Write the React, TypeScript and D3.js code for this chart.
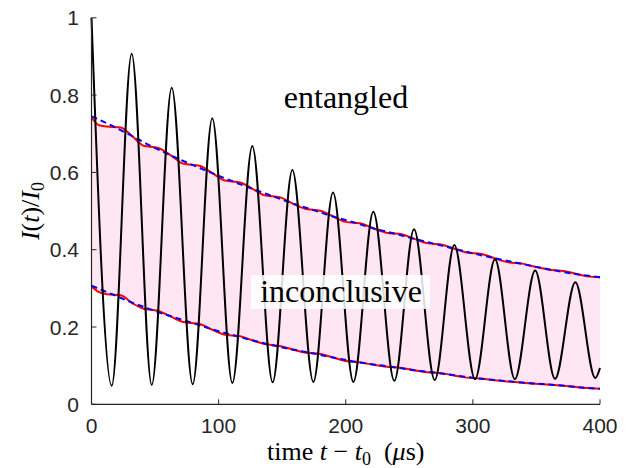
import React from 'react';
import * as d3 from 'd3';

// black trace: alternating maxima / minima of I(t)/I0
const blackT = [0, 15.9, 31.6, 47.4, 63.1, 79.6, 95, 110.8, 126.5, 142.5, 158, 174.5, 190, 206, 221.7, 238.2, 253.7, 270, 285.4, 301.7, 317.4, 333, 349, 364.6, 380.6, 396.3, 400];
const blackV = [1.0, 0.048, 0.907, 0.05, 0.819, 0.052, 0.74, 0.055, 0.668, 0.057, 0.606, 0.058, 0.548, 0.058, 0.498, 0.061, 0.453, 0.063, 0.412, 0.065, 0.375, 0.065, 0.346, 0.066, 0.316, 0.068, 0.094];

// red bounds (wiggly)
const envT = [0, 6, 12, 23, 32, 41, 52, 63, 72, 85, 95, 105, 117, 127, 136, 148, 158, 168, 180, 190, 200, 212, 222, 232, 244, 254, 264, 276, 286, 295, 307, 317, 327, 339, 349, 359, 371, 381, 390, 400];
const upperRed = [0.742, 0.722, 0.719, 0.716, 0.694, 0.669, 0.664, 0.643, 0.623, 0.617, 0.598, 0.579, 0.574, 0.557, 0.541, 0.536, 0.52, 0.506, 0.501, 0.486, 0.472, 0.468, 0.455, 0.444, 0.44, 0.428, 0.417, 0.413, 0.402, 0.393, 0.389, 0.378, 0.368, 0.364, 0.356, 0.349, 0.345, 0.338, 0.331, 0.329];
const lowerRed = [0.305, 0.29, 0.285, 0.282, 0.262, 0.247, 0.242, 0.226, 0.213, 0.208, 0.193, 0.18, 0.176, 0.165, 0.156, 0.151, 0.142, 0.134, 0.13, 0.121, 0.112, 0.108, 0.102, 0.097, 0.094, 0.088, 0.083, 0.08, 0.074, 0.069, 0.066, 0.062, 0.059, 0.056, 0.053, 0.051, 0.048, 0.045, 0.042, 0.04];

// blue dashed bounds (smooth)
const blueT = [0, 16, 32, 47, 63, 79, 95, 111, 127, 142, 158, 174, 190, 206, 222, 238, 254, 270, 286, 301, 317, 333, 349, 365, 381, 400];
const upperBlue = [0.745, 0.721, 0.694, 0.668, 0.643, 0.62, 0.598, 0.577, 0.557, 0.539, 0.52, 0.503, 0.486, 0.471, 0.455, 0.442, 0.428, 0.415, 0.402, 0.39, 0.378, 0.367, 0.356, 0.346, 0.337, 0.329];
const lowerBlue = [0.307, 0.285, 0.263, 0.245, 0.227, 0.211, 0.194, 0.179, 0.165, 0.153, 0.142, 0.132, 0.121, 0.111, 0.103, 0.096, 0.088, 0.082, 0.075, 0.068, 0.063, 0.058, 0.054, 0.05, 0.045, 0.04];

const xTicks = [0, 100, 200, 300, 400];
const yTicks = [0, 0.2, 0.4, 0.6, 0.8, 1];
const yTickLabels = ['0', '0.2', '0.4', '0.6', '0.8', '1'];

const W = 634;
const H = 468;
const left = 91.5;
const right = 600;
const top = 17.8;
const bottom = 404.3;

const App = () => {
  const x = d3.scaleLinear().domain([0, 400]).range([left, right]);
  const y = d3.scaleLinear().domain([0, 1]).range([bottom, top]);

  const band = d3.area<number>()
    .x((_, i) => x(envT[i]))
    .y0((_, i) => y(lowerRed[i]))
    .y1(d => y(d))
    .curve(d3.curveMonotoneX)(upperRed);

  const redLine = (vals: number[]) => d3.line<number>()
    .x((_, i) => x(envT[i]))
    .y(d => y(d))
    .curve(d3.curveMonotoneX)(vals);

  const blueLine = (vals: number[]) => d3.line<number>()
    .x((_, i) => x(blueT[i]))
    .y(d => y(d))
    .curve(d3.curveMonotoneX)(vals);

  const blackLine = d3.line<number>()
    .x((_, i) => x(blackT[i]))
    .y(d => y(d))
    .curve(d3.curveMonotoneX)(blackV);

  const axisColor = '#262626';
  const tickStyle = { fontFamily: '"Liberation Sans", Arial, sans-serif', fontSize: 21 };
  const serif = { fontFamily: 'Liberation Serif' };

  return (
    <svg width={W} height={H} style={{ position: 'absolute', left: 0, top: 0, background: '#fff' }}>
      <path d={band ?? ''} fill="#ffe6f2" stroke="none" />
      <path d={redLine(upperRed) ?? ''} fill="none" stroke="#ff0000" strokeWidth={2} />
      <path d={redLine(lowerRed) ?? ''} fill="none" stroke="#ff0000" strokeWidth={2} />
      <path d={blueLine(upperBlue) ?? ''} fill="none" stroke="#0000ff" strokeWidth={2} strokeDasharray="6 4" />
      <path d={blueLine(lowerBlue) ?? ''} fill="none" stroke="#0000ff" strokeWidth={2} strokeDasharray="6 4" />
      <path d={blackLine ?? ''} fill="none" stroke="#000" strokeWidth={2} />

      {/* region labels */}
      <text x={346} y={108} textAnchor="middle" style={{ ...serif, fontSize: 32 }} fill="#000">entangled</text>
      <rect x={251} y={275} width={179} height={34} fill="#fff" fillOpacity={0.85} />
      <text x={341} y={302} textAnchor="middle" style={{ ...serif, fontSize: 32 }} fill="#000">inconclusive</text>

      {/* axes */}
      <line x1={left} x2={left} y1={top} y2={bottom} stroke={axisColor} strokeWidth={1.2} />
      <line x1={left} x2={right} y1={bottom} y2={bottom} stroke={axisColor} strokeWidth={1.2} />
      {xTicks.map(t => (
        <g key={'x' + t}>
          <line x1={x(t)} x2={x(t)} y1={bottom} y2={bottom - 5} stroke={axisColor} />
          <text x={x(t)} y={bottom + 29} textAnchor="middle" style={tickStyle} fill={axisColor}>{t}</text>
        </g>
      ))}
      {yTicks.map((t, i) => (
        <g key={'y' + t}>
          <line x1={left} x2={left + 5} y1={y(t)} y2={y(t)} stroke={axisColor} />
          <text x={79} y={y(t) + 7.5} textAnchor="end" style={tickStyle} fill={axisColor}>{yTickLabels[i]}</text>
        </g>
      ))}

      {/* axis titles */}
      <text x={(left + right) / 2} y={460} textAnchor="middle" style={{ ...serif, fontSize: 26 }} fill="#000">
        time <tspan fontStyle="italic">t</tspan> − <tspan fontStyle="italic">t</tspan>
        <tspan fontSize={18} dy={5}>0</tspan>
        <tspan dy={-5}>{'\u00a0\u00a0('}</tspan>
        <tspan fontStyle="italic">μ</tspan>s)
      </text>
      <text transform={`translate(39, ${(top + bottom) / 2}) rotate(-90)`} textAnchor="middle" style={{ ...serif, fontSize: 26 }} fill="#000">
        <tspan fontStyle="italic">I</tspan>(<tspan fontStyle="italic">t</tspan>)/<tspan fontStyle="italic">I</tspan>
        <tspan fontSize={18} dy={5}>0</tspan>
      </text>
    </svg>
  );
};

export default App;
